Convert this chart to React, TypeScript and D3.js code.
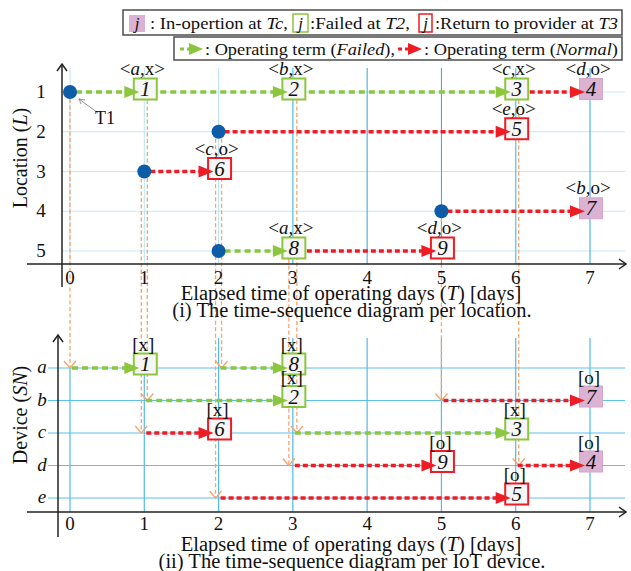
import React from "react";
import * as d3 from "d3";

const days = [0, 1, 2, 3, 4, 5, 6, 7];
const locations = [1, 2, 3, 4, 5];
const devices = ["a", "b", "c", "d", "e"];

// top diagram: where each location starts operating
const locStarts = [
  { t: 0, loc: 1 },
  { t: 2, loc: 2 },
  { t: 1, loc: 3 },
  { t: 5, loc: 4 },
  { t: 2, loc: 5 },
];
const locSegments = [
  { loc: 1, from: 0, to: 1, kind: "failed" },
  { loc: 1, from: 1, to: 3, kind: "failed" },
  { loc: 1, from: 3, to: 6, kind: "failed" },
  { loc: 1, from: 6, to: 7, kind: "normal" },
  { loc: 2, from: 2, to: 6, kind: "normal" },
  { loc: 3, from: 1, to: 2, kind: "normal" },
  { loc: 4, from: 5, to: 7, kind: "normal" },
  { loc: 5, from: 2, to: 3, kind: "failed" },
  { loc: 5, from: 3, to: 5, kind: "normal" },
];
const locBoxes = [
  { id: "1", t: 1, loc: 1, state: "failed", dev: "a", st: "x" },
  { id: "2", t: 3, loc: 1, state: "failed", dev: "b", st: "x" },
  { id: "3", t: 6, loc: 1, state: "failed", dev: "c", st: "x" },
  { id: "4", t: 7, loc: 1, state: "oper", dev: "d", st: "o" },
  { id: "5", t: 6, loc: 2, state: "returned", dev: "e", st: "o" },
  { id: "6", t: 2, loc: 3, state: "returned", dev: "c", st: "o" },
  { id: "7", t: 7, loc: 4, state: "oper", dev: "b", st: "o" },
  { id: "8", t: 3, loc: 5, state: "failed", dev: "a", st: "x" },
  { id: "9", t: 5, loc: 5, state: "returned", dev: "d", st: "o" },
];

// bottom diagram: per device
const devSegments = [
  { dev: "a", from: 0, to: 1, kind: "failed" },
  { dev: "a", from: 2, to: 3, kind: "failed" },
  { dev: "b", from: 1, to: 3, kind: "failed" },
  { dev: "b", from: 5, to: 7, kind: "normal" },
  { dev: "c", from: 1, to: 2, kind: "normal" },
  { dev: "c", from: 3, to: 6, kind: "failed" },
  { dev: "d", from: 3, to: 5, kind: "normal" },
  { dev: "d", from: 6, to: 7, kind: "normal" },
  { dev: "e", from: 2, to: 6, kind: "normal" },
];
const devBoxes = [
  { id: "1", t: 1, dev: "a", state: "failed", st: "x" },
  { id: "8", t: 3, dev: "a", state: "failed", st: "x" },
  { id: "2", t: 3, dev: "b", state: "failed", st: "x" },
  { id: "7", t: 7, dev: "b", state: "oper", st: "o" },
  { id: "6", t: 2, dev: "c", state: "returned", st: "x" },
  { id: "3", t: 6, dev: "c", state: "failed", st: "x" },
  { id: "9", t: 5, dev: "d", state: "returned", st: "o" },
  { id: "4", t: 7, dev: "d", state: "oper", st: "o" },
  { id: "5", t: 6, dev: "e", state: "returned", st: "o" },
];

// orange hand-off lines from a location to a device
const handoffs = [
  { t: 0, shift: 0, loc: 1, dev: "a" },
  { t: 1, shift: -3, loc: 3, dev: "c" },
  { t: 1, shift: 3, loc: 1, dev: "b" },
  { t: 2, shift: -3, loc: 2, dev: "e" },
  { t: 2, shift: 3, loc: 2, dev: "a" },
  { t: 3, shift: -4, loc: 5, dev: "d" },
  { t: 3, shift: 4, loc: 1, dev: "c" },
  { t: 5, shift: 0, loc: 4, dev: "b" },
  { t: 6, shift: 3, loc: 1, dev: "d" },
];

const GREEN = "#8cc63f";
const RED = "#ee1c25";
const PINK = "#dcb2d3";
const ORANGE = "#f5a46c";
const DOT = "#0d5ca8";
const FONT = '"Liberation Serif", "Times New Roman", Times, serif';

const x = d3.scaleLinear().domain([0, 7]).range([70, 590]);
const yLoc = d3.scaleLinear().domain([1, 5]).range([92, 251]);
const yDev = d3.scalePoint().domain(devices).range([368, 498]);

const BW = 23;
const BH = 21;

function Box({ cx, cy, state }) {
  const stroke = state === "failed" ? GREEN : state === "returned" ? RED : "#d6a6ca";
  const fill = state === "oper" ? PINK : "#f6f6f6";
  return (
    <rect x={cx - BW / 2} y={cy - BH / 2} width={BW} height={BH} fill={fill} stroke={stroke} strokeWidth={state === "oper" ? 1 : 2} />
  );
}

function Chevron({ cx, cy, dir, color, w }) {
  // open arrow head
  if (dir === "down")
    return <path d={`M${cx - 6},${cy - 7}L${cx},${cy}L${cx + 6},${cy - 7}`} fill="none" stroke={color} strokeWidth={w} />;
  if (dir === "up")
    return <path d={`M${cx - 5},${cy + 7}L${cx},${cy}L${cx + 5},${cy + 7}`} fill="none" stroke={color} strokeWidth={w} />;
  return <path d={`M${cx - 7},${cy - 5}L${cx},${cy}L${cx - 7},${cy + 5}`} fill="none" stroke={color} strokeWidth={w} />;
}

function gridTone(t) {
  if (t === 4 || t === 5 || t === 7) return "#2ea7e0";
  if (t === 3 || t === 6) return "#6fcbf0";
  return "#b5e4f7";
}

export default function App() {
  const boxLookupLoc = (loc, t) => locBoxes.find((b) => b.loc === loc && b.t === t);
  return (
    <svg width={631} height={571} style={{ position: "absolute", left: 0, top: 0, fontFamily: FONT }}>
      {/* ---------- legend ---------- */}
      <rect x={123} y={10} width={499} height={25} fill="#fff" stroke="#4d4d4d" strokeWidth={1.5} />
      <rect x={174} y={37} width={448} height={23} fill="#fff" stroke="#4d4d4d" strokeWidth={1.5} />
      <g fontSize={17} fill="#111">
        <rect x={129} y={15} width={16} height={17} fill={PINK} />
        <text x={137} y={29} textAnchor="middle" fontStyle="italic">j</text>
        <text x={150} y={29} textLength={138} lengthAdjust="spacingAndGlyphs">
          : In-opertion at <tspan fontStyle="italic">Tc</tspan>,
        </text>
        <rect x={293} y={14} width={15} height={18} fill="#fff" stroke={GREEN} strokeWidth={1.5} />
        <text x={300.5} y={29} textAnchor="middle" fontStyle="italic">j</text>
        <text x={310} y={29} textLength={100} lengthAdjust="spacingAndGlyphs">
          :Failed at <tspan fontStyle="italic">T2</tspan>,
        </text>
        <rect x={419} y={14} width={13} height={18} fill="#fff" stroke={RED} strokeWidth={1.5} />
        <text x={425.5} y={29} textAnchor="middle" fontStyle="italic">j</text>
        <text x={435} y={29} textLength={183} lengthAdjust="spacingAndGlyphs">
          :Return to provider at <tspan fontStyle="italic">T3</tspan>
        </text>

        <line x1={180} x2={192} y1={49} y2={49} stroke={GREEN} strokeWidth={3} strokeDasharray="4,3" />
        <path d="M189,43L203,49L189,55Z" fill={GREEN} />
        <text x={205} y={55} textLength={190} lengthAdjust="spacingAndGlyphs">
          : Operating term (<tspan fontStyle="italic">Failed</tspan>),
        </text>
        <line x1={398} x2={410} y1={49} y2={49} stroke={RED} strokeWidth={3} strokeDasharray="4,3" />
        <path d="M408,43L422,49L408,55Z" fill={RED} />
        <text x={424} y={55} textLength={194} lengthAdjust="spacingAndGlyphs">
          : Operating term (<tspan fontStyle="italic">Normal</tspan>)
        </text>
      </g>

      {/* ---------- top grid ---------- */}
      {locations.map((l) => (
        <line key={"hl" + l} x1={62} x2={625} y1={yLoc(l)} y2={yLoc(l)} stroke="#c4e9f8" strokeWidth={1} />
      ))}
      {days.map((t) => (
        <line key={"vl" + t} x1={x(t)} x2={x(t)} y1={68} y2={264} stroke={gridTone(t)} strokeWidth={t === 3 || t === 6 ? 1.5 : 1} />
      ))}

      {/* ---------- bottom grid ---------- */}
      {devices.map((d) => (
        <line key={"hd" + d} x1={48} x2={625} y1={yDev(d)} y2={yDev(d)} stroke="#5cc2ec" strokeWidth={1.2} />
      ))}
      {days.map((t) => (
        <line key={"vd" + t} x1={x(t)} x2={x(t)} y1={t < 2 ? yDev("a") : 338} y2={512} stroke="#4fbbea" strokeWidth={1.2} />
      ))}

      {/* ---------- orange hand-off lines ---------- */}
      {handoffs.map((h, i) => {
        const cx = x(h.t) + h.shift;
        const b = boxLookupLoc(h.loc, h.t);
        const y1 = b ? yLoc(h.loc) + 8 : yLoc(h.loc) + 7;
        return (
          <g key={"ho" + i}>
            <line x1={cx} x2={cx} y1={y1} y2={yDev(h.dev)} stroke={ORANGE} strokeWidth={1.3} strokeDasharray="4,2.5" />
            <Chevron cx={cx} cy={yDev(h.dev)} dir="down" color={ORANGE} w={1.3} />
          </g>
        );
      })}

      {/* ---------- axes ---------- */}
      <g stroke="#222" strokeWidth={1.5} fill="none">
        <line x1={62} x2={62} y1={64} y2={287} />
        <line x1={27} x2={626} y1={264} y2={264} />
        <line x1={58} x2={58} y1={335} y2={537} />
        <line x1={27} x2={626} y1={512} y2={512} />
      </g>
      <Chevron cx={62} cy={64} dir="up" color="#222" w={1.5} />
      <Chevron cx={626} cy={264} dir="right" color="#222" w={1.5} />
      <Chevron cx={58} cy={335} dir="up" color="#222" w={1.5} />
      <Chevron cx={626} cy={512} dir="right" color="#222" w={1.5} />

      {/* ---------- top segments ---------- */}
      {locSegments.map((s, i) => (
        <line key={"ls" + i} x1={x(s.from) + 6} x2={x(s.to) - 16} y1={yLoc(s.loc)} y2={yLoc(s.loc)}
          stroke={s.kind === "failed" ? GREEN : RED} strokeWidth={3.5} strokeDasharray={s.kind === "failed" ? "6,4" : "5,3"} />
      ))}
      {locBoxes.map((b) => (
        <Box key={"lb" + b.id} cx={x(b.t) + 1} cy={yLoc(b.loc) - 3} state={b.state} />
      ))}
      {locSegments.map((s, i) => (
        <path key={"la" + i} d={`M${x(s.to) - 20},${yLoc(s.loc) - 6}L${x(s.to) - 5},${yLoc(s.loc)}L${x(s.to) - 20},${yLoc(s.loc) + 6}Z`}
          fill={s.kind === "failed" ? GREEN : RED} />
      ))}
      {locStarts.map((d) => (
        <circle key={"dot" + d.loc} cx={x(d.t)} cy={yLoc(d.loc)} r={7} fill={DOT} />
      ))}
      <g fontSize={21} fill="#111">
        {locBoxes.map((b) => (
          <text key={"lt" + b.id} x={x(b.t) + 1} y={yLoc(b.loc) + 4} textAnchor="middle" fontStyle="italic">{b.id}</text>
        ))}
      </g>
      <g fontSize={19} fill="#111">
        {locBoxes.map((b) => (
          <text key={"tag" + b.id} x={x(b.t) - 2} y={yLoc(b.loc) - 17} textAnchor="middle">
            {"<"}<tspan fontStyle="italic">{b.dev}</tspan>{"," + b.st + ">"}
          </text>
        ))}
      </g>

      {/* T1 annotation */}
      <line x1={98} x2={79} y1={113} y2={99} stroke="#777" strokeWidth={0.8} />
      <path d="M79,99L85,100M79,99L81,104" stroke="#777" strokeWidth={0.8} fill="none" />
      <text x={95} y={124} fontSize={18} fill="#111">T1</text>

      {/* ---------- bottom segments ---------- */}
      {devSegments.map((s, i) => (
        <line key={"ds" + i} x1={x(s.from) + 2} x2={x(s.to) - 16} y1={yDev(s.dev)} y2={yDev(s.dev)}
          stroke={s.kind === "failed" ? GREEN : RED} strokeWidth={3.5} strokeDasharray={s.kind === "failed" ? "6,4" : "5,3"} />
      ))}
      {devBoxes.map((b, i) => (
        <Box key={"db" + i} cx={x(b.t) + 1} cy={yDev(b.dev) - 4} state={b.state} />
      ))}
      {devSegments.map((s, i) => (
        <path key={"da" + i} d={`M${x(s.to) - 20},${yDev(s.dev) - 6}L${x(s.to) - 5},${yDev(s.dev)}L${x(s.to) - 20},${yDev(s.dev) + 6}Z`}
          fill={s.kind === "failed" ? GREEN : RED} />
      ))}
      <g fontSize={21} fill="#111">
        {devBoxes.map((b, i) => (
          <text key={"dt" + i} x={x(b.t) + 1} y={yDev(b.dev) + 3} textAnchor="middle" fontStyle="italic">{b.id}</text>
        ))}
        {devBoxes.map((b, i) => (
          <text key={"dl" + i} x={x(b.t) - 1} y={yDev(b.dev) - 17} textAnchor="middle" fontSize={19}>{"[" + b.st + "]"}</text>
        ))}
      </g>

      {/* ---------- tick labels & titles ---------- */}
      <g fontSize={19} fill="#111" textAnchor="middle">
        {days.map((t) => (
          <text key={"tx" + t} x={x(t)} y={284}>{t}</text>
        ))}
        {days.map((t) => (
          <text key={"bx" + t} x={x(t)} y={530}>{t}</text>
        ))}
        {locations.map((l) => (
          <text key={"ty" + l} x={41} y={yLoc(l) + 6}>{l}</text>
        ))}
        {devices.map((d) => (
          <text key={"by" + d} x={42} y={yDev(d) + 5} fontStyle="italic">{d}</text>
        ))}
      </g>
      <g fontSize={20.5} fill="#111" textAnchor="middle">
        <text x={351} y={300}>
          Elapsed time of operating days (<tspan fontStyle="italic">T</tspan>) [days]
        </text>
        <text x={352} y={317}>(i) The time-sequence diagram per location.</text>
        <text x={351} y={551}>
          Elapsed time of operating days (<tspan fontStyle="italic">T</tspan>) [days]
        </text>
        <text x={352} y={568}>(ii) The time-sequence diagram per IoT device.</text>
        <text transform="translate(27,158) rotate(-90)" fontSize={20}>
          Location (<tspan fontStyle="italic">L</tspan>)
        </text>
        <text transform="translate(27,415) rotate(-90)" fontSize={20}>
          Device (<tspan fontStyle="italic">SN</tspan>)
        </text>
      </g>
    </svg>
  );
}
